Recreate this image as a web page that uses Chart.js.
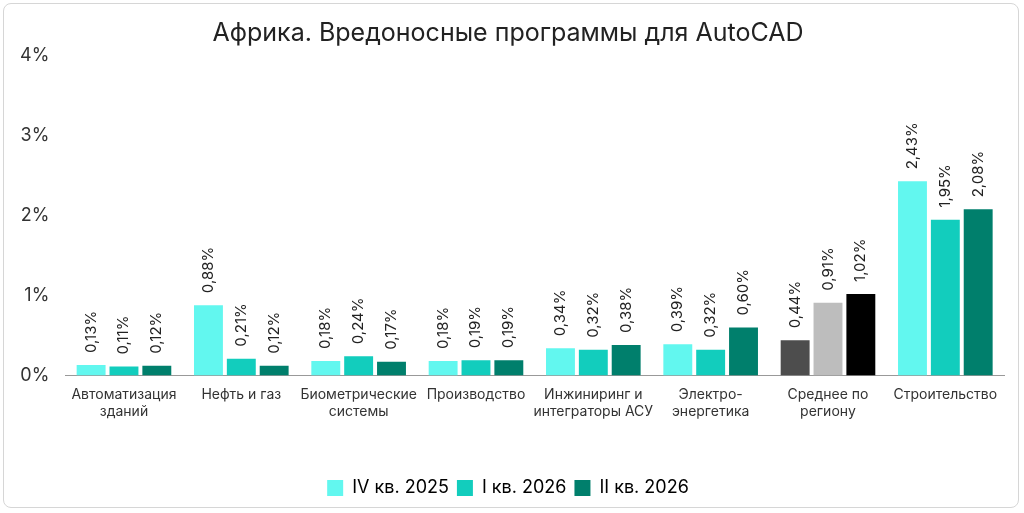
<!DOCTYPE html>
<html><head><meta charset="utf-8">
<script src="https://cdn.jsdelivr.net/npm/chart.js@4"></script>
<style>
html,body{margin:0;background:#fff;}
#wrap{position:absolute;left:3px;top:3px;width:1016px;height:505px;border:1px solid #d6d6d6;border-radius:8px;box-sizing:border-box;}
canvas{display:block;}
</style></head><body>
<div id="wrap"><canvas id="c"></canvas></div>
<script>
const categories = [['Автоматизация','зданий'],'Нефть и газ',['Биометрические','системы'],'Производство',['Инжиниринг и','интеграторы АСУ'],['Электро-','энергетика'],['Среднее по','региону'],'Строительство'];
const seriesNames = ['IV кв. 2025','I кв. 2026','II кв. 2026'];
const q4_2025 = [0.13,0.88,0.18,0.18,0.34,0.39,0.44,2.43];
const q1_2026 = [0.11,0.21,0.24,0.19,0.32,0.32,0.91,1.95];
const q2_2026 = [0.12,0.12,0.17,0.19,0.38,0.60,1.02,2.08];
const yTicks = [0,1,2,3,4];
const baseColors = ['#62f7ef','#12cdbd','#007f6c'];
const avgColors = ['#4d4d4d','#bdbdbd','#000000'];
const avgIndex = 6;
const fmt = v => v.toFixed(2).replace('.',',') + '%';
const font = 'Inter, "Noto Sans", sans-serif';

const labelPlugin = {
  id:'labels',
  afterDatasetsDraw(chart){
    const ctx = chart.ctx;
    ctx.save();
    ctx.font = '15px ' + font;
    ctx.fillStyle = '#222';
    ctx.textAlign = 'left';
    ctx.textBaseline = 'middle';
    chart.data.datasets.forEach((ds,i)=>{
      chart.getDatasetMeta(i).data.forEach((bar,j)=>{
        ctx.save();
        ctx.translate(bar.x, bar.y - 12);
        ctx.rotate(-Math.PI/2);
        ctx.fillText(fmt(ds.data[j]),0,0);
        ctx.restore();
      });
    });
    ctx.restore();
  }
};

const cv = document.getElementById('c');
cv.width = 1014; cv.height = 503;
new Chart(cv, {
  type:'bar',
  data:{
    labels:categories,
    datasets:[q4_2025,q1_2026,q2_2026].map((d,i)=>({
      label:seriesNames[i], data:d,
      backgroundColor:d.map((_,j)=> j===avgIndex ? avgColors[i] : baseColors[i]),
      categoryPercentage:0.84, barPercentage:0.88
    }))
  },
  options:{
    responsive:false, animation:false,
    layout:{padding:{left:8,right:14,top:0,bottom:0}},
    scales:{
      x:{grid:{display:false},border:{color:'#999'},afterFit:s=>{s.height+=48;},
         ticks:{color:'#333',font:{family:font,size:14},maxRotation:0,autoSkip:false}},
      y:{min:0,max:4,afterBuildTicks:a=>{a.ticks=yTicks.map(v=>({value:v}));},
         grid:{display:false},border:{display:false},
         ticks:{color:'#333',font:{family:font,size:18},callback:v=>v+'%',padding:8}}
    },
    plugins:{
      title:{display:true,text:'Африка. Вредоносные программы для AutoCAD',color:'#222',font:{family:font,size:25,weight:'normal'},padding:{top:14,bottom:8}},
      legend:{position:'bottom',labels:{generateLabels:()=>seriesNames.map((n,i)=>({text:n,fillStyle:baseColors[i],strokeStyle:baseColors[i],lineWidth:0,datasetIndex:i})),
        boxWidth:16,boxHeight:16,padding:8,color:'#222',font:{family:font,size:18}}},
      tooltip:{enabled:false}
    }
  },
  plugins:[labelPlugin]
});
</script></body></html>
